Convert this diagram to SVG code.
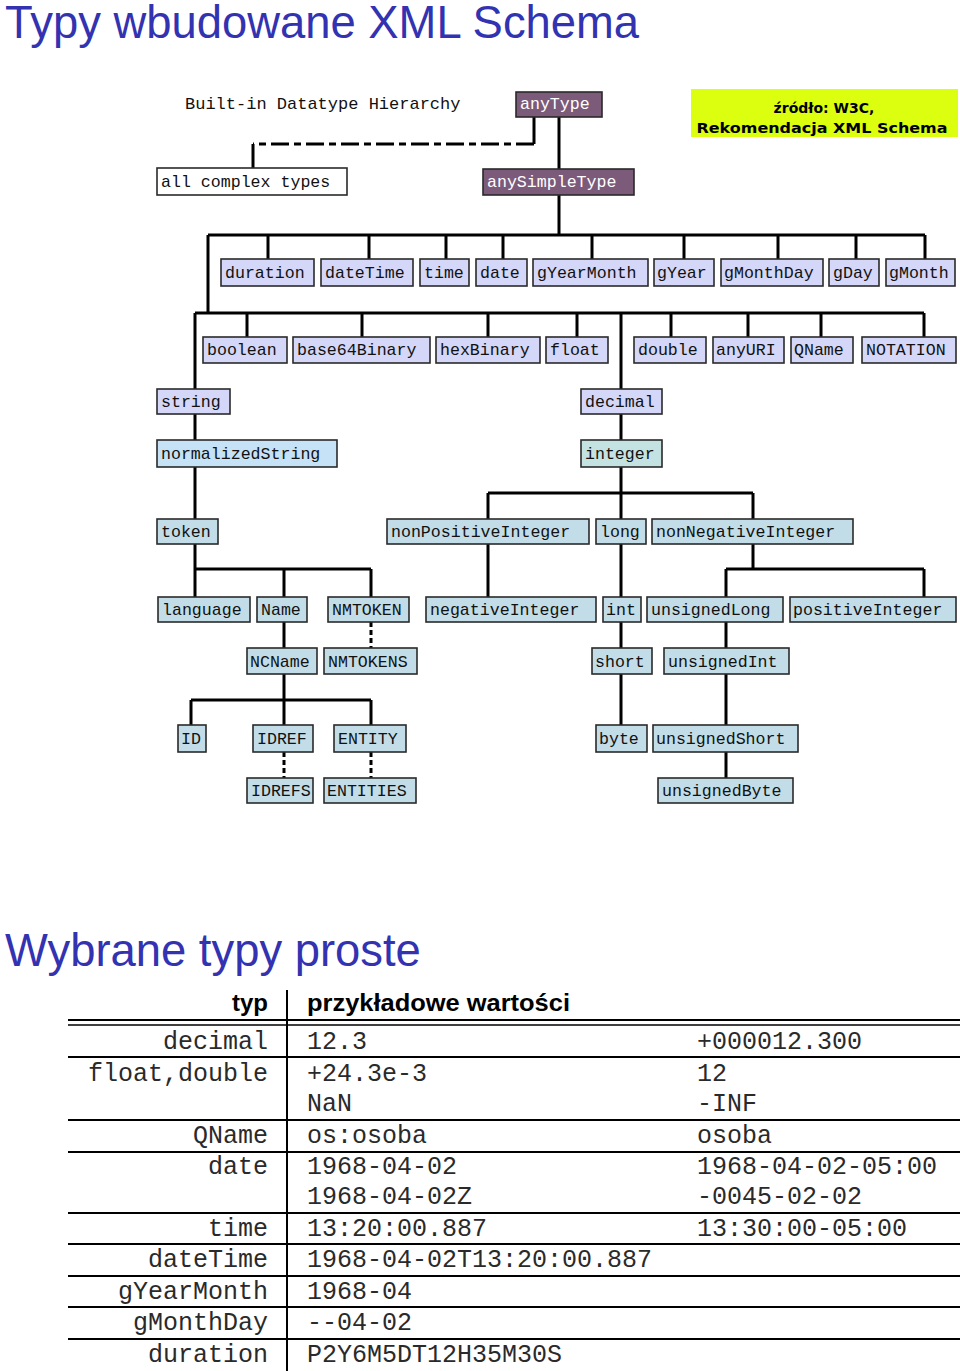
<svg xmlns="http://www.w3.org/2000/svg" width="960" height="1371" viewBox="0 0 960 1371">
<style>
.title{font-family:"Liberation Sans",Arial,sans-serif;font-size:45.4px;fill:#3333b2}
.bx{stroke:#2a2a2a;stroke-width:1.6}
.lav{fill:#d4d7f7}
.nrm{fill:#c6e2f6}
.teal{fill:#c4e2e2}
.lb{fill:#c2dde8}
.pur{fill:#7b5a7a}
.wht{fill:#ffffff}
.t{font-family:"Liberation Mono","Courier New",monospace;font-size:16.6px;fill:#111}
.tw{font-family:"Liberation Mono","Courier New",monospace;font-size:16.6px;fill:#ffffff}
.ln{fill:none;stroke:#000;stroke-width:3}
.dash{fill:none;stroke:#000;stroke-width:3;stroke-dasharray:5 3}
.dash2{fill:none;stroke:#000;stroke-width:3;stroke-dasharray:18 5 7 5}
.th{font-family:"Liberation Sans",Arial,sans-serif;font-size:24px;font-weight:bold;fill:#000}
.td{font-family:"Liberation Mono","Courier New",monospace;font-size:25px;fill:#2a2a2a}
.tl{stroke:#000;stroke-width:2}
</style>

<text class="title" x="5" y="38">Typy wbudowane XML Schema</text>
<text class="t" x="185" y="109" style="font-size:17px">Built-in Datatype Hierarchy</text>

<g id="connectors">
  <path class="ln" d="M559 117V169"/>
  <path class="ln" d="M534 117V144M253 144V168"/>
  <path class="dash2" d="M534 144H253"/>
  <path class="ln" d="M559 195V235M208 235H925M268 235V259M369 235V259M446 235V259M503 235V259M592 235V259M684 235V259M778 235V259M856 235V259M925 235V259"/>
  <path class="ln" d="M208 235V313M195 313H924M247 313V337M362 313V337M488 313V337M577 313V337M671 313V337M748 313V337M821 313V337M924 313V337"/>
  <path class="ln" d="M195 313V389M621 313V389"/>
  <path class="ln" d="M195 414V440M195 467V519M621 414V440M621 467V493M488 493H753M488 493V519M621 493V519M753 493V519"/>
  <path class="ln" d="M195 544V569M195 569H371M195 569V597M284 569V597M371 569V597"/>
  <path class="ln" d="M488 544V597M621 544V597M621 622V648M621 674V725"/>
  <path class="ln" d="M753 544V569M726 569H924M726 569V597M924 569V597"/>
  <path class="ln" d="M726 622V648M726 674V725M726 752V778"/>
  <path class="ln" d="M284 622V648M284 674V700M191 700H371M191 700V725M284 700V725M371 700V725"/>
  <path class="dash" d="M371 622V648M284 752V778M371 752V778"/>
</g>

<g id="anyType"><rect class="bx pur" x="516" y="92" width="86" height="25"/><text class="tw" x="520" y="109">anyType</text></g>
<g id="anySimpleType"><rect class="bx pur" x="483" y="169" width="151" height="26"/><text class="tw" x="487" y="187">anySimpleType</text></g>
<g id="allComplexTypes"><rect class="bx wht" x="157" y="168" width="190" height="27"/><text class="t" x="161" y="187">all complex types</text></g>
<g id="source"><rect x="691" y="89" width="267" height="48" fill="#dcff10"/>
  <text x="824" y="113" text-anchor="middle" style="font-family:'DejaVu Sans',Verdana,sans-serif;font-size:14px;font-weight:bold;fill:#000">źródło: W3C,</text>
  <text x="822" y="133" text-anchor="middle" textLength="251" lengthAdjust="spacingAndGlyphs" style="font-family:'DejaVu Sans',Verdana,sans-serif;font-size:14px;font-weight:bold;fill:#000">Rekomendacja XML Schema</text></g>

<g id="duration"><rect class="bx lav" x="221" y="259" width="93" height="27"/><text class="t" x="225" y="278">duration</text></g>
<g id="dateTime"><rect class="bx lav" x="321" y="259" width="92" height="27"/><text class="t" x="325" y="278">dateTime</text></g>
<g id="time"><rect class="bx lav" x="420" y="259" width="49" height="27"/><text class="t" x="424" y="278">time</text></g>
<g id="date"><rect class="bx lav" x="476" y="259" width="51" height="27"/><text class="t" x="480" y="278">date</text></g>
<g id="gYearMonth"><rect class="bx lav" x="533" y="259" width="115" height="27"/><text class="t" x="537" y="278">gYearMonth</text></g>
<g id="gYear"><rect class="bx lav" x="654" y="259" width="60" height="27"/><text class="t" x="657" y="278">gYear</text></g>
<g id="gMonthDay"><rect class="bx lav" x="721" y="259" width="102" height="27"/><text class="t" x="724" y="278">gMonthDay</text></g>
<g id="gDay"><rect class="bx lav" x="829" y="259" width="50" height="27"/><text class="t" x="833" y="278">gDay</text></g>
<g id="gMonth"><rect class="bx lav" x="886" y="259" width="69" height="27"/><text class="t" x="889" y="278">gMonth</text></g>

<g id="boolean"><rect class="bx lav" x="203" y="337" width="84" height="26"/><text class="t" x="207" y="355">boolean</text></g>
<g id="base64Binary"><rect class="bx lav" x="293" y="337" width="137" height="26"/><text class="t" x="297" y="355">base64Binary</text></g>
<g id="hexBinary"><rect class="bx lav" x="436" y="337" width="104" height="26"/><text class="t" x="440" y="355">hexBinary</text></g>
<g id="float"><rect class="bx lav" x="546" y="337" width="62" height="26"/><text class="t" x="550" y="355">float</text></g>
<g id="double"><rect class="bx lav" x="634" y="337" width="72" height="26"/><text class="t" x="638" y="355">double</text></g>
<g id="anyURI"><rect class="bx lav" x="713" y="337" width="71" height="26"/><text class="t" x="716" y="355">anyURI</text></g>
<g id="QName"><rect class="bx lav" x="791" y="337" width="62" height="26"/><text class="t" x="794" y="355">QName</text></g>
<g id="NOTATION"><rect class="bx lav" x="862" y="337" width="94" height="26"/><text class="t" x="866" y="355">NOTATION</text></g>

<g id="string"><rect class="bx lav" x="157" y="389" width="73" height="25"/><text class="t" x="161" y="407">string</text></g>
<g id="decimal"><rect class="bx lav" x="581" y="389" width="81" height="25"/><text class="t" x="585" y="407">decimal</text></g>
<g id="normalizedString"><rect class="bx nrm" x="157" y="440" width="180" height="27"/><text class="t" x="161" y="459">normalizedString</text></g>
<g id="integer"><rect class="bx teal" x="581" y="440" width="81" height="27"/><text class="t" x="585" y="459">integer</text></g>

<g id="token"><rect class="bx lb" x="157" y="519" width="61" height="25"/><text class="t" x="161" y="537">token</text></g>
<g id="nonPositiveInteger"><rect class="bx lb" x="387" y="519" width="202" height="25"/><text class="t" x="391" y="537">nonPositiveInteger</text></g>
<g id="long"><rect class="bx lb" x="596" y="519" width="50" height="25"/><text class="t" x="600" y="537">long</text></g>
<g id="nonNegativeInteger"><rect class="bx lb" x="652" y="519" width="201" height="25"/><text class="t" x="656" y="537">nonNegativeInteger</text></g>

<g id="language"><rect class="bx lb" x="158" y="597" width="92" height="25"/><text class="t" x="162" y="615">language</text></g>
<g id="Name"><rect class="bx lb" x="257" y="597" width="50" height="25"/><text class="t" x="261" y="615">Name</text></g>
<g id="NMTOKEN"><rect class="bx lb" x="328" y="597" width="81" height="25"/><text class="t" x="332" y="615">NMTOKEN</text></g>
<g id="negativeInteger"><rect class="bx lb" x="426" y="597" width="170" height="25"/><text class="t" x="430" y="615">negativeInteger</text></g>
<g id="int"><rect class="bx lb" x="603" y="597" width="38" height="25"/><text class="t" x="606" y="615">int</text></g>
<g id="unsignedLong"><rect class="bx lb" x="647" y="597" width="136" height="25"/><text class="t" x="651" y="615">unsignedLong</text></g>
<g id="positiveInteger"><rect class="bx lb" x="790" y="597" width="166" height="25"/><text class="t" x="793" y="615">positiveInteger</text></g>

<g id="NCName"><rect class="bx lb" x="247" y="648" width="70" height="26"/><text class="t" x="250" y="667">NCName</text></g>
<g id="NMTOKENS"><rect class="bx lb" x="324" y="648" width="93" height="26"/><text class="t" x="328" y="667">NMTOKENS</text></g>
<g id="short"><rect class="bx lb" x="592" y="648" width="60" height="26"/><text class="t" x="595" y="667">short</text></g>
<g id="unsignedInt"><rect class="bx lb" x="664" y="648" width="125" height="26"/><text class="t" x="668" y="667">unsignedInt</text></g>

<g id="ID"><rect class="bx lb" x="178" y="725" width="28" height="27"/><text class="t" x="181" y="744">ID</text></g>
<g id="IDREF"><rect class="bx lb" x="253" y="725" width="60" height="27"/><text class="t" x="257" y="744">IDREF</text></g>
<g id="ENTITY"><rect class="bx lb" x="334" y="725" width="72" height="27"/><text class="t" x="338" y="744">ENTITY</text></g>
<g id="byte"><rect class="bx lb" x="596" y="725" width="51" height="27"/><text class="t" x="599" y="744">byte</text></g>
<g id="unsignedShort"><rect class="bx lb" x="653" y="725" width="145" height="27"/><text class="t" x="656" y="744">unsignedShort</text></g>

<g id="IDREFS"><rect class="bx lb" x="247" y="778" width="66" height="25"/><text class="t" x="251" y="796">IDREFS</text></g>
<g id="ENTITIES"><rect class="bx lb" x="324" y="778" width="92" height="25"/><text class="t" x="327" y="796">ENTITIES</text></g>
<g id="unsignedByte"><rect class="bx lb" x="658" y="778" width="135" height="25"/><text class="t" x="662" y="796">unsignedByte</text></g>

<text class="title" x="5" y="966">Wybrane typy proste</text>

<g id="table">
  <line class="tl" x1="287" y1="990" x2="287" y2="1371"/>
  <line x1="68" y1="1020" x2="960" y2="1020" stroke="#000" stroke-width="2.2"/>
  <line x1="68" y1="1025" x2="960" y2="1025" stroke="#000" stroke-width="1.6"/>
  <line class="tl" x1="68" y1="1057" x2="960" y2="1057"/>
  <line class="tl" x1="68" y1="1120" x2="960" y2="1120"/>
  <line class="tl" x1="68" y1="1152" x2="960" y2="1152"/>
  <line class="tl" x1="68" y1="1213" x2="960" y2="1213"/>
  <line class="tl" x1="68" y1="1244" x2="960" y2="1244"/>
  <line class="tl" x1="68" y1="1276" x2="960" y2="1276"/>
  <line class="tl" x1="68" y1="1307" x2="960" y2="1307"/>
  <line class="tl" x1="68" y1="1339" x2="960" y2="1339"/>
  <text class="th" x="268" y="1011" text-anchor="end">typ</text>
  <text class="th" x="307" y="1011" textLength="263" lengthAdjust="spacingAndGlyphs">przykładowe wartości</text>
  <g text-anchor="end">
    <text class="td" x="268" y="1049">decimal</text>
    <text class="td" x="268" y="1081">float,double</text>
    <text class="td" x="268" y="1143">QName</text>
    <text class="td" x="268" y="1174">date</text>
    <text class="td" x="268" y="1236">time</text>
    <text class="td" x="268" y="1267">dateTime</text>
    <text class="td" x="268" y="1299">gYearMonth</text>
    <text class="td" x="268" y="1330">gMonthDay</text>
    <text class="td" x="268" y="1362">duration</text>
  </g>
  <text class="td" x="307" y="1049">12.3</text>
  <text class="td" x="697" y="1049">+000012.300</text>
  <text class="td" x="307" y="1081">+24.3e-3</text>
  <text class="td" x="697" y="1081">12</text>
  <text class="td" x="307" y="1111">NaN</text>
  <text class="td" x="697" y="1111">-INF</text>
  <text class="td" x="307" y="1143">os:osoba</text>
  <text class="td" x="697" y="1143">osoba</text>
  <text class="td" x="307" y="1174">1968-04-02</text>
  <text class="td" x="697" y="1174">1968-04-02-05:00</text>
  <text class="td" x="307" y="1204">1968-04-02Z</text>
  <text class="td" x="697" y="1204">-0045-02-02</text>
  <text class="td" x="307" y="1236">13:20:00.887</text>
  <text class="td" x="697" y="1236">13:30:00-05:00</text>
  <text class="td" x="307" y="1267">1968-04-02T13:20:00.887</text>
  <text class="td" x="307" y="1299">1968-04</text>
  <text class="td" x="307" y="1330">--04-02</text>
  <text class="td" x="307" y="1362">P2Y6M5DT12H35M30S</text>
</g>
</svg>
